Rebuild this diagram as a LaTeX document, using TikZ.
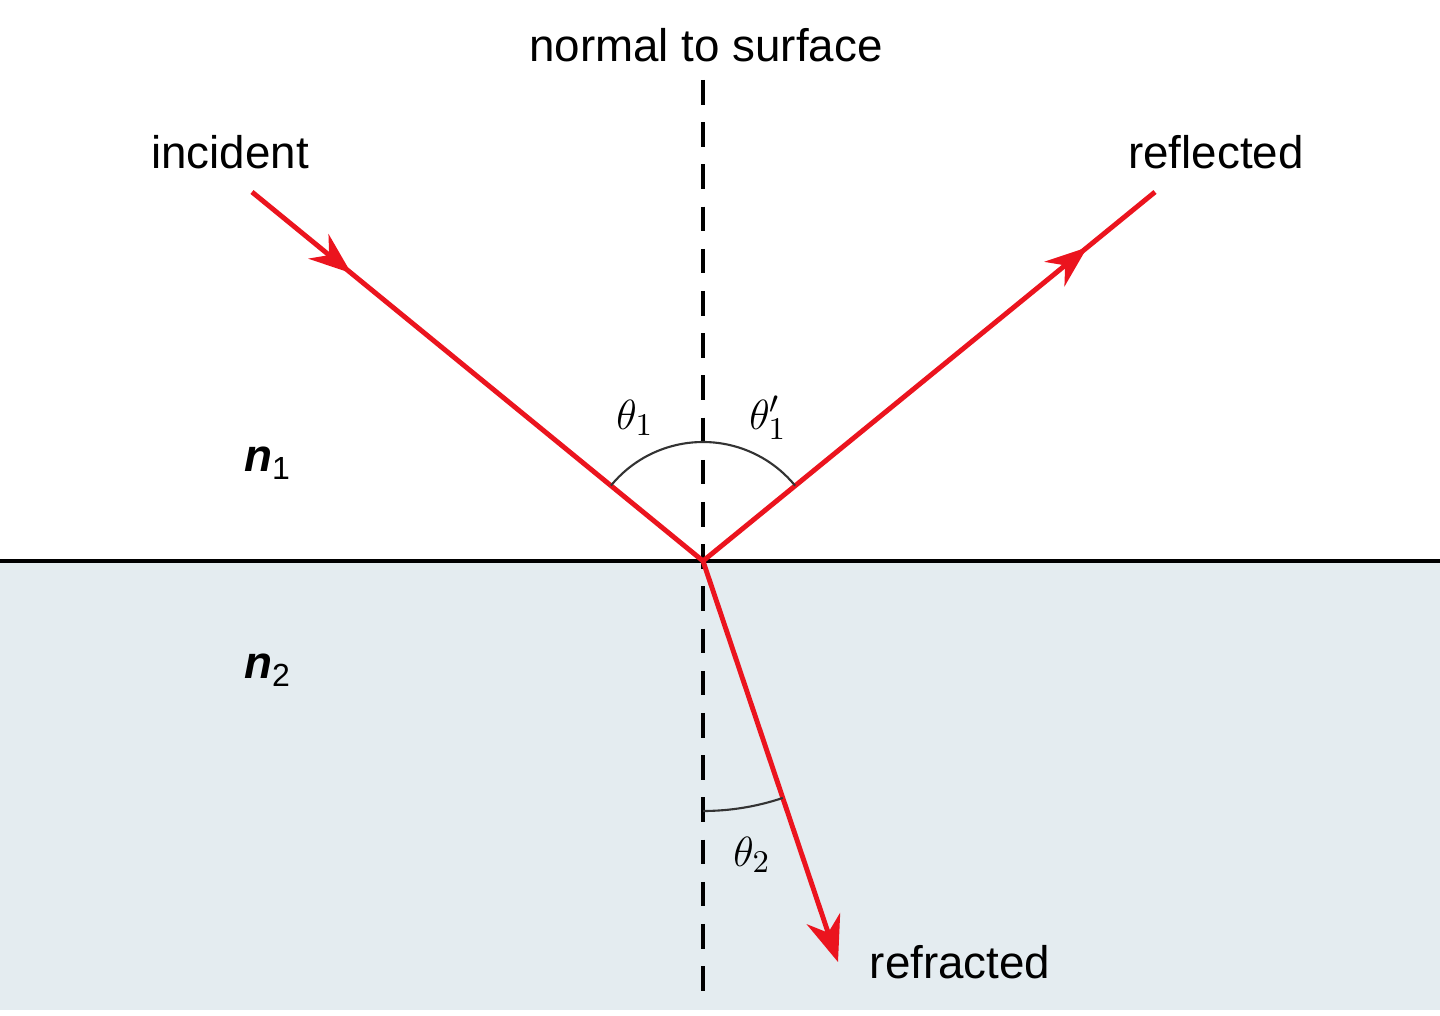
\documentclass[tikz,border=0pt]{standalone}
\usepackage{fontspec}
\setmainfont{Liberation Sans}
\usetikzlibrary{decorations.markings,arrows.meta}
\definecolor{raycol}{RGB}{235,20,30}
\definecolor{medium}{RGB}{228,236,240}
\tikzset{
  ray/.style={draw=raycol,line width=1.4pt},
  midarrow/.style={postaction={decorate},decoration={markings,mark=at position #1 with {\arrow{Stealth[length=12pt,width=9pt]}}}},
  lbl/.style={font=\fontsize{13}{15}\selectfont},
  anglbl/.style={font=\fontsize{13}{15}\selectfont},
  arcline/.style={draw=black!80,line width=0.6pt}
}
\begin{document}
\begin{tikzpicture}[x=0.01cm,y=-0.01cm]
\useasboundingbox (0,0) rectangle (1440,1016);
\fill[medium] (0,561) rectangle (1440,1010);
\draw[line width=1pt] (0,561) -- (1440,561);
\coordinate (O) at (703,561);
\coordinate (ntop) at (703,80);
\coordinate (nbot) at (703,1008);
\draw[line width=0.9pt,dash pattern=on 7pt off 5pt] (ntop) -- (nbot);
\coordinate (I) at (252,192);
\coordinate (R) at (1155,192);
\coordinate (T) at (838,962);
\draw[ray,midarrow=0.22] (I) -- (O);
\draw[ray,midarrow=0.85] (O) -- (R);
\draw[ray,-{Stealth[length=13pt,width=10pt]}] (O) -- (T);
\draw[arcline] ([shift={(-140.7:119)}]O) arc[start angle=-140.7,end angle=-39.3,radius=119];
\draw[arcline] ([shift={(0,250)}]O) arc[start angle=90,end angle=71.4,radius=250];
\node[lbl] (nts) at (706,45) {normal to surface};
\node[lbl] (inc) at (230,152) {incident};
\node[lbl] (refl) at (1216,152) {reflected};
\node[lbl] (refr) at (960,962) {refracted};
\node[anglbl] (n1) at (268,463) {{\bfseries\itshape n}\textsubscript{1}};
\node[anglbl] (n2) at (268,670) {{\bfseries\itshape n}\textsubscript{2}};
\node[anglbl] (t1) at (635,418) {$\theta_1$};
\node[anglbl] (t1p) at (768,418) {$\theta_1'$};
\node[anglbl] (t2) at (752,855) {$\theta_2$};
\end{tikzpicture}
\end{document}
